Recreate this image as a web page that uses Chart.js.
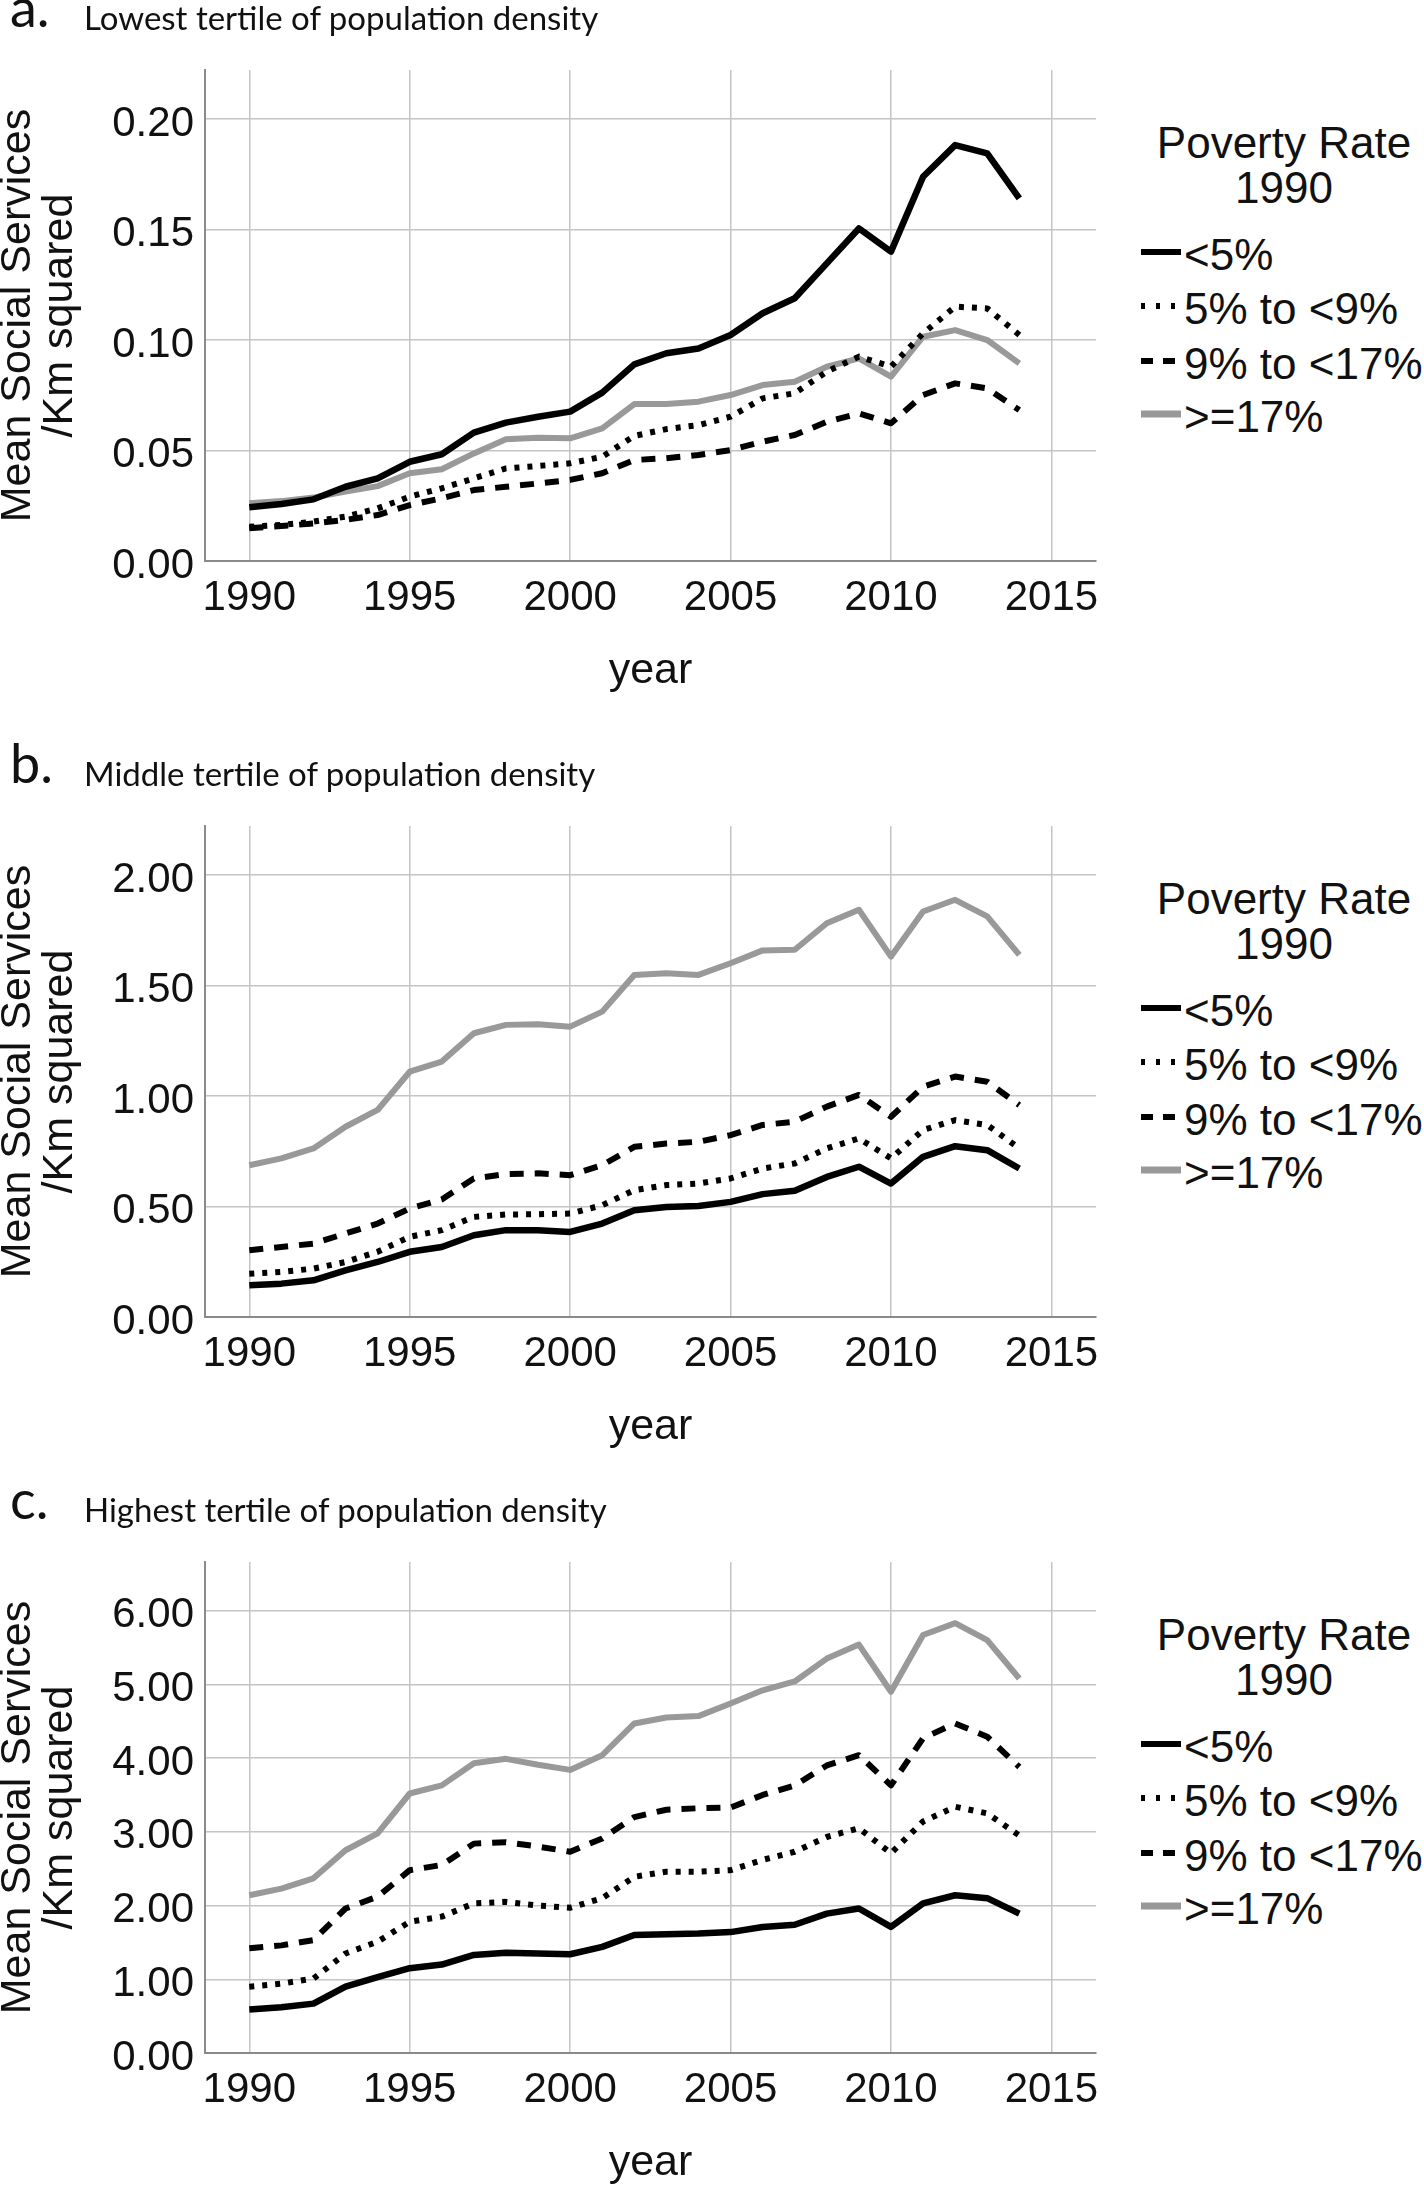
<!DOCTYPE html>
<html>
<head>
<meta charset="utf-8">
<script src="https://cdn.jsdelivr.net/npm/chart.js@4.4.1/dist/chart.umd.min.js"></script>
<style>
html, body { margin: 0; padding: 0; background: #fff; }
body { width: 1424px; height: 2188px; position: relative; overflow: hidden; font-family: 'Liberation Sans', Arial, sans-serif; color: #111; }
canvas { position: absolute; left: -3px; }
.plabel { position: absolute; left: 10px; font-family: Lato, 'Open Sans', sans-serif; font-size: 54px; line-height: 64px; white-space: nowrap; }
.ptext { position: absolute; left: 84px; font-family: Lato, 'Open Sans', sans-serif; font-size: 33px; line-height: 40px; white-space: nowrap; }
.leg { position: absolute; font-size: 44px; line-height: 44px; white-space: nowrap; }
.leg.center { left: 1134px; width: 300px; text-align: center; }
.leg.item { left: 1184px; }
.sample { position: absolute; left: 1141px; }
</style>
</head>
<body>
<canvas id="chartA" width="1119" height="667" style="top:30px"></canvas>
<canvas id="chartB" width="1119" height="667" style="top:786px"></canvas>
<canvas id="chartC" width="1119" height="667" style="top:1522px"></canvas>
<div id="overlay"></div>
<script>
// years on the x axis
const years = [1990, 1991, 1992, 1993, 1994, 1995, 1996, 1997, 1998, 1999, 2000, 2001, 2002,
               2003, 2004, 2005, 2006, 2007, 2008, 2009, 2010, 2011, 2012, 2013, 2014];
const xTicks = [1990, 1995, 2000, 2005, 2010, 2015];

// poverty rate groups (legend)
const groups = ['<5%', '5% to <9%', '9% to <17%', '>=17%'];

// a. lowest tertile
const lowUnder5 = [0.0243, 0.0258, 0.0279, 0.0336, 0.0374, 0.0449, 0.0483, 0.0581, 0.0626, 0.0653, 0.0676, 0.0762, 0.0890,
                   0.0940, 0.0962, 0.1023, 0.1121, 0.1189, 0.1347, 0.1505, 0.1400, 0.1739, 0.1882, 0.1845, 0.1641];
const low5to9 = [0.0155, 0.0163, 0.0178, 0.0201, 0.0238, 0.0291, 0.0329, 0.0374, 0.0419, 0.0430, 0.0442, 0.0472, 0.0566,
                 0.0597, 0.0615, 0.0653, 0.0736, 0.0759, 0.0857, 0.0925, 0.0880, 0.1030, 0.1151, 0.1143, 0.1023];
const low9to17 = [0.0148, 0.0158, 0.0170, 0.0186, 0.0208, 0.0253, 0.0284, 0.0321, 0.0336, 0.0351, 0.0367, 0.0397, 0.0457,
                  0.0465, 0.0480, 0.0502, 0.0540, 0.0570, 0.0630, 0.0668, 0.0623, 0.0751, 0.0804, 0.0781, 0.0683];
const low17plus = [0.0261, 0.0271, 0.0287, 0.0314, 0.0339, 0.0397, 0.0415, 0.0487, 0.0551, 0.0558, 0.0555, 0.0600, 0.0710,
                   0.0710, 0.0721, 0.0751, 0.0796, 0.0811, 0.0879, 0.0917, 0.0834, 0.1015, 0.1045, 0.1000, 0.0894];
const lowTicks = [0, 0.05, 0.10, 0.15, 0.20];

// b. middle tertile
const midUnder5 = [0.144, 0.151, 0.166, 0.211, 0.249, 0.295, 0.317, 0.370, 0.393, 0.393, 0.385, 0.423, 0.483,
                   0.498, 0.502, 0.521, 0.556, 0.571, 0.634, 0.680, 0.604, 0.725, 0.773, 0.755, 0.672];
const mid5to9 = [0.196, 0.204, 0.219, 0.249, 0.295, 0.363, 0.393, 0.453, 0.464, 0.465, 0.468, 0.506, 0.574,
                 0.597, 0.604, 0.627, 0.672, 0.695, 0.763, 0.808, 0.718, 0.846, 0.891, 0.869, 0.763];
const mid9to17 = [0.302, 0.317, 0.332, 0.378, 0.423, 0.491, 0.532, 0.627, 0.647, 0.650, 0.642, 0.687, 0.770,
                  0.785, 0.793, 0.823, 0.869, 0.884, 0.952, 1.005, 0.906, 1.042, 1.088, 1.065, 0.959];
const mid17plus = [0.687, 0.718, 0.763, 0.861, 0.937, 1.110, 1.156, 1.284, 1.322, 1.325, 1.314, 1.382, 1.548,
                   1.556, 1.548, 1.601, 1.659, 1.662, 1.782, 1.843, 1.631, 1.835, 1.888, 1.813, 1.639];
const midTicks = [0, 0.5, 1.0, 1.5, 2.0];

// c. highest tertile
const highUnder5 = [0.59, 0.62, 0.67, 0.90, 1.03, 1.15, 1.20, 1.33, 1.36, 1.35, 1.34, 1.44, 1.60,
                    1.61, 1.62, 1.64, 1.71, 1.74, 1.89, 1.96, 1.71, 2.03, 2.14, 2.10, 1.89];
const high5to9 = [0.90, 0.94, 1.01, 1.35, 1.51, 1.78, 1.85, 2.03, 2.05, 2.00, 1.97, 2.10, 2.39,
                  2.46, 2.46, 2.48, 2.62, 2.73, 2.93, 3.05, 2.71, 3.14, 3.34, 3.25, 2.95];
const high9to17 = [1.42, 1.46, 1.53, 1.96, 2.12, 2.48, 2.55, 2.84, 2.86, 2.80, 2.73, 2.91, 3.20,
                   3.30, 3.32, 3.33, 3.50, 3.63, 3.90, 4.04, 3.63, 4.27, 4.47, 4.29, 3.88];
const high17plus = [2.14, 2.23, 2.37, 2.75, 2.98, 3.52, 3.63, 3.93, 3.99, 3.91, 3.84, 4.04, 4.47,
                    4.55, 4.57, 4.74, 4.92, 5.04, 5.35, 5.54, 4.90, 5.67, 5.83, 5.60, 5.08];
const highTicks = [0, 1, 2, 3, 4, 5, 6];

// line styles per group
const lineColors = ['#000000', '#000000', '#000000', '#999999'];
const lineDashes = [[], [5, 8], [14, 11], []];
const lineWidths = [6.5, 6, 6, 6];
const sampleDash = ['', '4 11', '12 10', ''];

Chart.defaults.font.family = "'Liberation Sans', Arial, sans-serif";
Chart.defaults.color = '#111';

const panels = [
    { id: 'chartA', plotTop: 70, yMax: 0.2222, yTicks: lowTicks, letter: 'a.', title: 'Lowest tertile of population density',
      series: [lowUnder5, low5to9, low9to17, low17plus] },
    { id: 'chartB', plotTop: 826, yMax: 2.222, yTicks: midTicks, letter: 'b.', title: 'Middle tertile of population density',
      series: [midUnder5, mid5to9, mid9to17, mid17plus] },
    { id: 'chartC', plotTop: 1562, yMax: 6.66, yTicks: highTicks, letter: 'c.', title: 'Highest tertile of population density',
      series: [highUnder5, high5to9, high9to17, high17plus] }
];

const overlay = document.getElementById('overlay');

function addDiv(cls, top, text) {
    const d = document.createElement('div');
    d.className = cls;
    d.style.top = top + 'px';
    d.textContent = text;
    overlay.appendChild(d);
    return d;
}

panels.forEach(function (p) {
    const ctx = document.getElementById(p.id);
    new Chart(ctx, {
        type: 'line',
        data: {
            datasets: groups.map((g, i) => ({
                label: g,
                data: years.map((yr, k) => ({ x: yr, y: p.series[i][k] })),
                borderColor: lineColors[i],
                borderWidth: lineWidths[i],
                borderDash: lineDashes[i],
                borderCapStyle: 'butt',
                borderJoinStyle: 'round',
                pointRadius: 0,
                tension: 0,
                fill: false
            }))
        },
        options: {
            responsive: false,
            animation: false,
            devicePixelRatio: 1,
            layout: { padding: { top: 40, right: 20, left: 0, bottom: 0 } },
            plugins: { legend: { display: false }, tooltip: { enabled: false } },
            scales: {
                x: {
                    type: 'linear',
                    min: 1988.62,
                    max: 2016.39,
                    afterBuildTicks: s => { s.ticks = xTicks.map(v => ({ value: v })); },
                    afterFit: s => { s.height = 136; },
                    ticks: { callback: v => String(v), font: { size: 42 }, color: '#111', padding: 12, maxRotation: 0, autoSkip: false },
                    grid: { color: '#c4c4c4', lineWidth: 1.5, drawTicks: false },
                    border: { color: '#8a8a8a', width: 2 },
                    title: { display: true, text: 'year', font: { size: 43 }, color: '#111', padding: 0 }
                },
                y: {
                    min: 0,
                    max: p.yMax,
                    afterBuildTicks: s => { s.ticks = p.yTicks.map(v => ({ value: v })); },
                    afterFit: s => { s.width = 208; },
                    ticks: { callback: v => Number(v).toFixed(2), font: { size: 42 }, color: '#111', padding: 11, labelOffset: 5, autoSkip: false },
                    grid: { color: '#c4c4c4', lineWidth: 1.5, drawTicks: false },
                    border: { color: '#8a8a8a', width: 2 },
                    title: { display: true, text: ['Mean Social Services', '/Km squared'], font: { size: 43, lineHeight: 0.98 }, color: '#111', padding: 0 }
                }
            }
        }
    });

    // panel heading, baseline ~40px above the plot
    const base = p.plotTop - 40;
    addDiv('plabel', base - 55, p.letter);
    addDiv('ptext', base - 33, p.title);

    // legend
    addDiv('leg center', p.plotTop + 88 - 37, 'Poverty Rate');
    addDiv('leg center', p.plotTop + 133 - 37, '1990');
    const itemBase = [200, 254, 309, 362];
    groups.forEach(function (g, i) {
        const b = p.plotTop + itemBase[i];
        addDiv('leg item', b - 37, g);
        const svg = document.createElementNS('http://www.w3.org/2000/svg', 'svg');
        svg.setAttribute('class', 'sample');
        svg.setAttribute('width', '42');
        svg.setAttribute('height', '10');
        svg.style.top = (b - 18 - 5) + 'px';
        const ln = document.createElementNS('http://www.w3.org/2000/svg', 'line');
        ln.setAttribute('x1', '0'); ln.setAttribute('x2', '40');
        ln.setAttribute('y1', '5'); ln.setAttribute('y2', '5');
        ln.setAttribute('stroke', lineColors[i]);
        ln.setAttribute('stroke-width', i === 3 ? '7' : '6');
        if (sampleDash[i]) ln.setAttribute('stroke-dasharray', sampleDash[i]);
        svg.appendChild(ln);
        overlay.appendChild(svg);
    });
});
</script>
</body>
</html>
